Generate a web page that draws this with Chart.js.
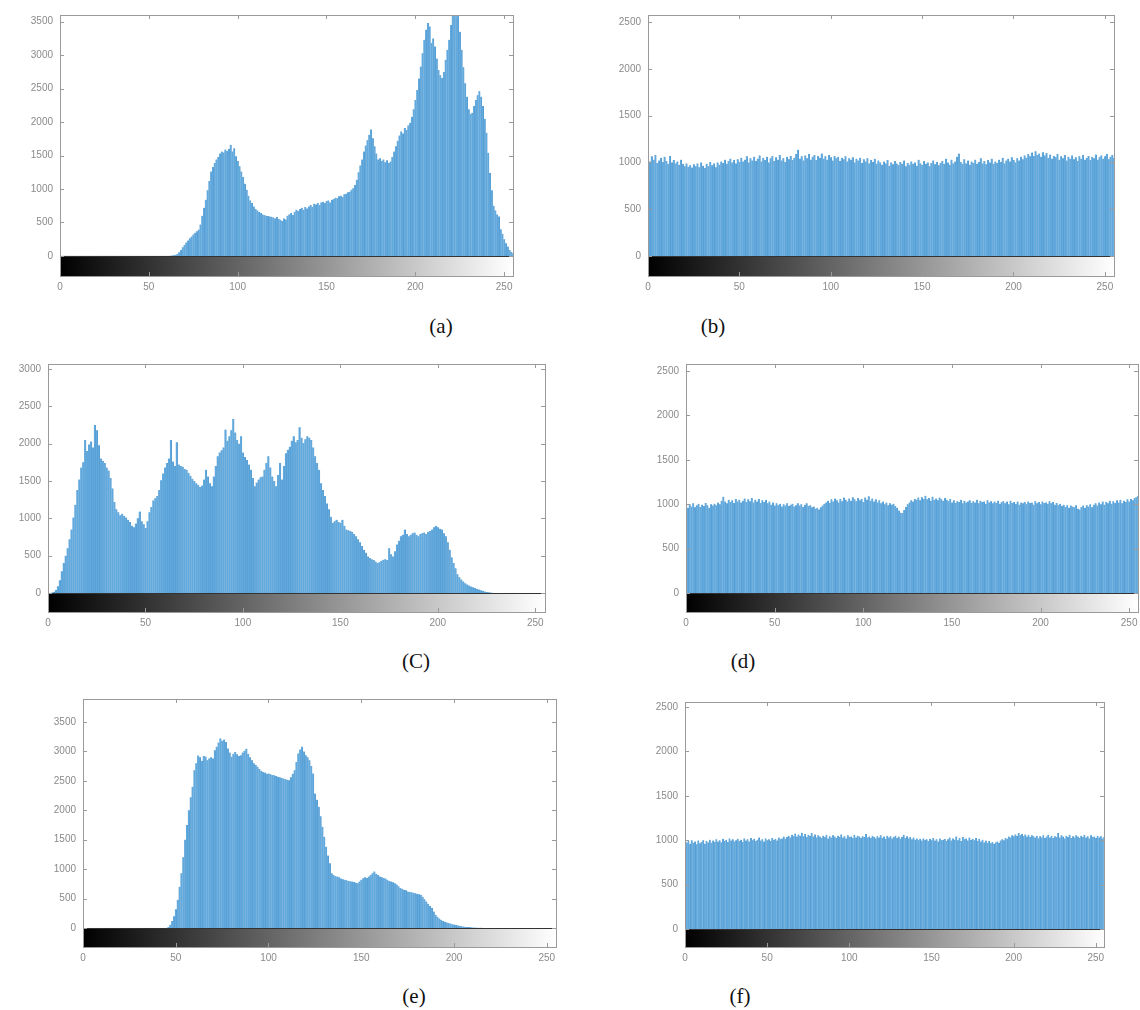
<!DOCTYPE html>
<html>
<head>
<meta charset="utf-8">
<title>Histograms</title>
<script src="https://cdn.jsdelivr.net/npm/chart.js@4.4.0/dist/chart.umd.min.js"></script>
<style>
    body { margin: 0; width: 1140px; height: 1010px; background: #fff; position: relative; overflow: hidden; }
    canvas { position: absolute; }
    .cap { position: absolute; font-family: 'Liberation Serif', 'Times New Roman', serif; font-size: 21px; color: #111;
           transform: translate(-50%, -50%); white-space: nowrap; }
</style>
</head>
<body>
<canvas id="histA"></canvas>
<canvas id="histB"></canvas>
<canvas id="histC"></canvas>
<canvas id="histD"></canvas>
<canvas id="histE"></canvas>
<canvas id="histF"></canvas>
<div class="cap" style="left:441px; top:326px;">(a)</div>
<div class="cap" style="left:713px; top:326px;">(b)</div>
<div class="cap" style="left:416px; top:661px;">(C)</div>
<div class="cap" style="left:743px; top:661px;">(d)</div>
<div class="cap" style="left:414px; top:996px;">(e)</div>
<div class="cap" style="left:740px; top:996px;">(f)</div>
<script>
// Gray levels 0..255 (one bar each)
const bins = Array.from({ length: 256 }, (_, i) => i);
const xTicks = [0, 50, 100, 150, 200, 250];

const yTicksA = [0, 500, 1000, 1500, 2000, 2500, 3000, 3500];
const yTicksB = [0, 500, 1000, 1500, 2000, 2500];
const yTicksC = [0, 500, 1000, 1500, 2000, 2500, 3000];
const yTicksD = [0, 500, 1000, 1500, 2000, 2500];
const yTicksE = [0, 500, 1000, 1500, 2000, 2500, 3000, 3500];
const yTicksF = [0, 500, 1000, 1500, 2000, 2500];

// (a) original image histogram
const countsA = [
    0,0,0,0,0,0,0,0,0,0,0,0,0,0,0,0,
    0,0,0,0,0,0,0,0,0,0,0,0,0,0,0,0,
    0,0,0,0,0,0,0,0,0,0,0,0,0,0,0,0,
    0,0,0,0,0,0,0,0,0,0,0,0,0,0,2,5,
    10,18,30,55,90,130,165,200,230,265,290,320,345,370,395,470,
    600,720,840,980,1120,1260,1330,1390,1440,1480,1530,1560,1545,1590,1570,1600,
    1660,1560,1610,1490,1420,1340,1260,1180,1080,990,900,830,790,740,700,680,
    660,640,620,610,600,595,590,585,575,560,580,550,540,520,560,545,
    600,620,640,610,660,690,670,700,720,690,730,710,740,760,735,780,
    770,790,760,800,810,790,820,830,800,840,850,870,860,890,900,880,
    920,930,950,960,990,1010,1060,1140,1250,1350,1440,1560,1650,1730,1810,1890,
    1760,1640,1530,1440,1460,1420,1440,1400,1430,1390,1410,1480,1560,1640,1720,1800,
    1860,1830,1910,1880,1950,1990,2080,2190,2330,2480,2650,2830,3030,3230,3380,3480,
    3430,3180,3250,3130,2950,2780,2700,2660,2750,2930,3080,3230,3450,3600,3600,3580,
    3600,3350,3080,2820,2580,2380,2190,2120,2140,2240,2330,2400,2460,2380,2240,2050,
    1840,1540,1240,980,750,680,620,590,400,330,250,190,140,90,60,40
];

// (b) equalized histogram of (a)
const countsB = [
    1040,1010,1065,1030,1080,995,1020,1050,1005,1060,1015,985,1070,1000,1025,990,
    1010,975,1030,985,960,990,955,970,945,980,960,990,950,1000,965,940,
    985,960,1005,970,990,950,1000,975,1010,995,1030,985,1015,1040,1000,1025,
    990,1035,1005,1050,1010,1030,1065,1000,1045,1020,1060,1015,1040,1075,1010,1050,
    1025,1060,1000,1045,1070,1015,1055,1030,1080,1020,1045,1005,1060,1035,1070,1025,
    1050,1090,1135,1040,1065,1020,1075,1045,1090,1030,1060,1080,1025,1070,1050,1095,
    1040,1065,1030,1080,1055,1020,1070,1045,1060,1015,1050,1035,1065,1010,1045,1030,
    1055,1000,1040,1020,1050,995,1035,1010,1045,990,1025,1005,1040,985,1020,1000,
    975,1010,990,1025,965,1000,980,1015,990,970,1005,985,1020,960,995,975,
    1010,985,1000,965,1030,990,975,1015,985,1000,960,995,1020,980,1005,970,
    995,1015,985,1040,1000,975,1030,990,1010,1060,1095,1005,985,1035,990,1020,
    975,1010,995,1030,985,1005,1045,990,1015,980,1025,1000,1040,985,1010,995,
    1030,1005,1050,990,1020,1040,1010,1055,1025,1000,1045,1020,1060,1035,1075,1050,
    1090,1065,1105,1070,1120,1080,1095,1060,1110,1075,1100,1050,1085,1040,1070,1055,
    1090,1030,1065,1045,1080,1020,1060,1040,1075,1035,1055,1015,1065,1040,1080,1030,
    1050,1070,1025,1060,1045,1085,1030,1055,1075,1040,1065,1090,1035,1060,1080,1050
];

// (c) original image histogram
const countsC = [
    0,0,5,15,40,90,170,290,400,500,600,720,850,1010,1180,1380,
    1520,1680,1750,2050,1900,1990,2030,1950,2250,2180,1980,1800,1770,1740,1680,1640,
    1540,1400,1220,1120,1080,1040,1060,1030,1010,980,950,900,880,930,1000,1090,
    960,920,870,960,1080,1150,1240,1270,1300,1380,1510,1600,1680,1740,1800,2050,
    1760,1700,2020,1720,1700,1690,1660,1650,1610,1570,1530,1500,1470,1450,1420,1440,
    1520,1650,1560,1470,1430,1560,1700,1830,1880,1910,1950,2190,2040,2100,2180,2330,
    2150,2050,2000,2100,1880,1820,1780,1720,1650,1540,1430,1480,1520,1550,1560,1650,
    1740,1830,1680,1560,1500,1430,1580,1740,1520,1700,1870,1920,1960,2040,2100,2020,
    2050,2220,2080,2010,2060,2100,2080,2050,1950,1830,1740,1650,1470,1380,1300,1200,
    1120,1020,940,960,980,950,940,980,900,850,840,830,820,790,760,720,
    680,630,580,540,490,470,450,440,420,400,410,430,445,450,440,600,
    520,490,560,650,700,760,780,850,790,760,780,800,810,780,760,790,
    800,810,790,820,830,850,880,900,880,860,850,800,760,680,580,480,
    400,330,250,210,180,155,130,115,100,85,75,65,55,45,35,28,
    20,14,10,6,3,1,0,0,0,0,0,0,0,0,0,0,
    0,0,0,0,0,0,0,0,0,0,0,0,0,0,0,0
];

// (d) equalized histogram of (c)
const countsD = [
    985,960,1000,975,1010,965,990,1005,970,995,980,1015,990,960,1000,985,
    1005,990,1020,1000,1040,1085,1030,1010,1050,1025,1045,1015,1060,1030,1050,1020,
    1040,1065,1025,1055,1035,1070,1020,1050,1030,1060,1015,1045,1025,1050,1010,1030,
    995,1020,985,1010,990,1005,975,1000,985,1010,980,995,1005,975,990,1010,
    985,1000,970,995,1010,980,990,965,975,950,960,940,965,985,1005,1020,
    1040,1015,1055,1030,1065,1045,1020,1060,1035,1075,1050,1030,1065,1040,1080,1055,
    1035,1070,1045,1060,1025,1075,1050,1090,1040,1065,1030,1055,1020,1045,1010,1030,
    1000,1020,990,1010,995,1005,980,960,930,905,900,935,970,1000,1020,1045,
    1030,1060,1050,1075,1045,1080,1060,1095,1055,1070,1040,1085,1050,1065,1045,1075,
    1055,1040,1070,1050,1035,1060,1020,1045,1015,1035,1025,1050,1010,1040,1020,1030,
    1045,1015,1035,1020,1050,1010,1040,1025,1030,1005,1045,1020,1035,1010,1030,1015,
    1040,1005,1025,1035,1010,1030,1000,1040,1015,1025,1005,1030,995,1020,1010,1025,
    1000,1030,1015,1020,995,1035,1010,1025,1000,1030,1015,1020,1005,1035,1010,1025,
    995,1015,990,1005,980,995,970,990,960,985,975,965,990,950,940,970,
    985,960,990,975,1000,965,995,1010,985,1020,1000,1030,995,1025,1010,1040,
    1005,1035,1015,1045,1020,1050,1010,1040,1025,1055,1030,1060,1045,1070,1080,1095
];

// (e) original image histogram
const countsE = [
    0,0,0,0,0,0,0,0,0,0,0,0,0,0,0,0,
    0,0,0,0,0,0,0,0,0,0,0,0,0,0,0,0,
    0,0,0,0,0,0,0,0,0,0,0,0,0,0,15,55,
    120,200,320,480,700,930,1200,1500,1750,2000,2220,2400,2680,2800,2930,2900,
    2840,2920,2910,2850,2880,2900,2880,3020,3080,3150,3220,3180,3200,3160,3050,2980,
    2910,2960,2990,2950,2920,2935,2980,3010,3045,2960,2900,2850,2800,2770,2740,2700,
    2670,2650,2640,2620,2625,2610,2600,2595,2580,2570,2560,2550,2540,2530,2520,2510,
    2560,2620,2680,2820,2965,3030,3080,3000,2935,2900,2850,2750,2625,2285,2180,2060,
    1900,1720,1550,1380,1230,1100,930,900,880,875,860,840,830,820,810,800,
    795,790,780,770,760,790,820,845,860,850,875,900,930,960,920,900,
    875,860,850,840,820,800,790,775,760,740,710,680,665,650,640,620,
    610,605,600,590,580,575,565,530,490,450,410,375,340,280,225,190,
    160,140,120,105,95,85,75,65,58,50,42,36,30,25,20,17,
    15,12,9,7,6,5,3,2,1,0,0,0,0,0,0,0,
    0,0,0,0,0,0,0,0,0,0,0,0,0,0,0,0,
    0,0,0,0,0,0,0,0,0,0,0,0,0,0,0,0
];

// (f) equalized histogram of (e)
const countsF = [
    1010,975,990,960,1000,970,985,955,995,965,980,1000,960,990,975,1005,
    970,995,980,1010,985,1000,975,1015,990,1005,980,1020,995,1010,985,1000,
    1015,990,1005,980,1020,995,1010,985,1025,1000,1015,990,1005,1030,995,1010,
    985,1020,1000,1010,990,1025,1005,1015,995,1030,1010,1020,1040,1015,1035,1050,
    1030,1060,1045,1075,1040,1065,1050,1085,1045,1070,1035,1060,1050,1080,1040,1065,
    1030,1055,1040,1025,1050,1035,1060,1020,1045,1030,1055,1040,1025,1050,1035,1065,
    1030,1045,1020,1055,1035,1040,1025,1060,1030,1050,1040,1025,1045,1035,1070,1030,
    1040,1025,1050,1035,1020,1045,1030,1055,1025,1040,1015,1050,1030,1045,1020,1035,
    1050,1025,1040,1015,1035,1060,1025,1045,1020,1035,1010,1030,1005,1020,1000,1015,
    995,1020,1005,1010,990,1015,1000,1025,995,1010,985,1020,1000,1005,1015,990,
    1010,1030,995,1020,1005,1040,1000,1025,990,1035,1010,1020,995,1030,1005,1015,
    1000,1025,990,1015,985,1005,975,995,970,990,965,980,960,975,985,970,
    995,1010,1000,1025,1015,1040,1030,1055,1045,1065,1050,1080,1055,1070,1045,1065,
    1040,1060,1035,1055,1045,1030,1050,1020,1045,1030,1055,1025,1040,1060,1030,1050,
    1025,1045,1035,1080,1030,1055,1040,1020,1050,1035,1060,1025,1045,1030,1055,1040,
    1025,1050,1035,1060,1030,1045,1020,1055,1035,1040,1025,1050,1030,1045,1020,1035
];

const barColor = '#62a9dd';
const barEdge = '#4a90c6';
const frameColor = '#9a9a9a';
const labelColor = '#8a8a8a';

const Y_AXIS_W = 52;
const X_AXIS_H = 26;
const PAD_TOP = 8;
const PAD_RIGHT = 12;

// grayscale strip under the zero line + matlab-like box with inward ticks
const histDecor = {
    id: 'histDecor',
    beforeDatasetsDraw(chart) {
        const { ctx, chartArea, scales } = chart;
        const y0 = scales.y.getPixelForValue(0);
        const grad = ctx.createLinearGradient(chartArea.left, 0, chartArea.right, 0);
        grad.addColorStop(0, '#000');
        grad.addColorStop(1, '#fff');
        ctx.save();
        ctx.fillStyle = grad;
        ctx.fillRect(chartArea.left, y0, chartArea.right - chartArea.left, chartArea.bottom - y0);
        ctx.restore();
    },
    afterDraw(chart) {
        const { ctx, chartArea, scales } = chart;
        const { left, right, top, bottom } = chartArea;
        const y0 = scales.y.getPixelForValue(0);
        ctx.save();
        ctx.strokeStyle = '#333';
        ctx.lineWidth = 1;
        ctx.beginPath();
        ctx.moveTo(left, Math.round(y0) + 0.5);
        ctx.lineTo(right, Math.round(y0) + 0.5);
        ctx.stroke();

        ctx.strokeStyle = frameColor;
        ctx.strokeRect(Math.round(left) + 0.5, Math.round(top) + 0.5,
            Math.round(right - left), Math.round(bottom - top));
        ctx.beginPath();
        scales.x.ticks.forEach(t => {
            const x = Math.round(scales.x.getPixelForValue(t.value)) + 0.5;
            ctx.moveTo(x, top); ctx.lineTo(x, top + 4);
            ctx.moveTo(x, bottom); ctx.lineTo(x, bottom - 4);
        });
        scales.y.ticks.forEach(t => {
            const y = Math.round(scales.y.getPixelForValue(t.value)) + 0.5;
            ctx.moveTo(left, y); ctx.lineTo(left + 4, y);
            ctx.moveTo(right, y); ctx.lineTo(right - 4, y);
        });
        ctx.stroke();
        ctx.restore();
    }
};

function drawHistogram(id, box, counts, yTicks, yMin, yMax) {
    const canvas = document.getElementById(id);
    canvas.width = (box.right - box.left) + Y_AXIS_W + PAD_RIGHT;
    canvas.height = (box.bottom - box.top) + PAD_TOP + X_AXIS_H;
    canvas.style.left = (box.left - Y_AXIS_W) + 'px';
    canvas.style.top = (box.top - PAD_TOP) + 'px';

    new Chart(canvas.getContext('2d'), {
        type: 'bar',
        data: {
            labels: bins,
            datasets: [{
                data: counts,
                backgroundColor: barColor,
                borderColor: barEdge,
                borderWidth: { top: 0, left: 0, right: 0.5, bottom: 0 },
                borderSkipped: false,
                barPercentage: 1,
                categoryPercentage: 1
            }]
        },
        options: {
            responsive: false,
            animation: false,
            devicePixelRatio: 1,
            layout: { padding: { top: PAD_TOP, right: PAD_RIGHT, left: 0, bottom: 0 } },
            plugins: { legend: { display: false }, tooltip: { enabled: false } },
            scales: {
                x: {
                    type: 'linear',
                    min: 0,
                    max: 255,
                    offset: false,
                    grid: { display: false, drawTicks: false },
                    border: { display: false },
                    afterBuildTicks: s => { s.ticks = xTicks.map(v => ({ value: v })); },
                    afterFit: s => {
                        s.height = X_AXIS_H;
                        s.paddingLeft = 0;
                        s.paddingRight = 0;
                    },
                    ticks: {
                        color: labelColor,
                        font: { family: 'Liberation Sans', size: 10 },
                        padding: 5,
                        maxRotation: 0,
                        autoSkip: false,
                        callback: v => String(v)
                    }
                },
                y: {
                    min: yMin,
                    max: yMax,
                    grid: { display: false, drawTicks: false },
                    border: { display: false },
                    afterBuildTicks: s => { s.ticks = yTicks.map(v => ({ value: v })); },
                    afterFit: s => {
                        s.width = Y_AXIS_W;
                        s.paddingTop = 0;
                        s.paddingBottom = 0;
                    },
                    ticks: {
                        color: labelColor,
                        font: { family: 'Liberation Sans', size: 10 },
                        padding: 7,
                        callback: v => String(v)
                    }
                }
            }
        },
        plugins: [histDecor]
    });
}

drawHistogram('histA', { left: 60, top: 15, right: 513, bottom: 276 }, countsA, yTicksA, -300, 3600);
drawHistogram('histB', { left: 648, top: 15, right: 1114, bottom: 276 }, countsB, yTicksB, -213, 2575);
drawHistogram('histC', { left: 48, top: 364, right: 545, bottom: 612 }, countsC, yTicksC, -255, 3067);
drawHistogram('histD', { left: 686, top: 364, right: 1138, bottom: 612 }, countsD, yTicksD, -214, 2580);
drawHistogram('histE', { left: 83, top: 699, right: 556, bottom: 947 }, countsE, yTicksE, -323, 3890);
drawHistogram('histF', { left: 685, top: 702, right: 1104, bottom: 947 }, countsF, yTicksF, -203, 2556);
</script>
</body>
</html>
